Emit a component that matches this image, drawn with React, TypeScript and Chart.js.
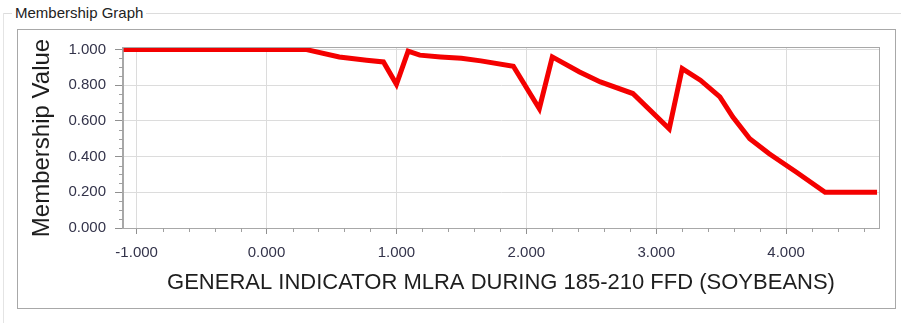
import React, { useEffect, useRef } from "react";
import { Chart, registerables } from "chart.js";

Chart.register(...registerables);

const groupTitle = "Membership Graph";
const xAxisTitle = "GENERAL INDICATOR MLRA DURING 185-210 FFD (SOYBEANS)";
const yAxisTitle = "Membership Value";

const xValues = [-1.1, 0.3, 0.56, 0.77, 0.9, 1.0, 1.09, 1.18, 1.34, 1.5, 1.65, 1.9, 2.1, 2.2, 2.41, 2.57, 2.82, 3.1, 3.2, 3.34, 3.49, 3.59, 3.72, 3.87, 4.08, 4.3, 4.7];
const membershipValues = [1.0, 1.0, 0.958, 0.94, 0.93, 0.805, 0.99, 0.968, 0.958, 0.95, 0.936, 0.906, 0.668, 0.958, 0.874, 0.818, 0.753, 0.556, 0.893, 0.828, 0.734, 0.621, 0.5, 0.416, 0.312, 0.2, 0.2];

const xTickValues = [-1, 0, 1, 2, 3, 4];
const yTickValues = [0, 0.2, 0.4, 0.6, 0.8, 1.0];
const xMin = -1.105;
const xMax = 4.715;
const yMin = 0;
const yMax = 1.008;
const xMinorStep = 0.2;
const yMinorStep = 0.05;

const FONT = "'Liberation Sans', Arial, sans-serif";

export default function App() {
  const ref = useRef<HTMLCanvasElement>(null);

  useEffect(() => {
    if (!ref.current) return;
    Chart.defaults.font.family = FONT;

    const framePlugin = {
      id: "frame",
      beforeDatasetsDraw(chart: any) {
        const { ctx, chartArea } = chart;
        ctx.save();
        ctx.strokeStyle = "#a8a8a8";
        ctx.lineWidth = 1;
        ctx.strokeRect(
          Math.round(chartArea.left) - 0.5,
          Math.round(chartArea.top) - 0.5,
          Math.round(chartArea.right - chartArea.left) + 1,
          Math.round(chartArea.bottom - chartArea.top) + 1
        );
        ctx.restore();
      },
    };

    const minorTicksPlugin = {
      id: "minorTicks",
      afterDraw(chart: any) {
        const { ctx, chartArea } = chart;
        const xs = chart.scales.x;
        const ys = chart.scales.y;
        ctx.save();
        ctx.strokeStyle = "#a0a0a0";
        ctx.lineWidth = 1;
        ctx.beginPath();
        const xStart = Math.ceil(xMin / xMinorStep);
        const xEnd = Math.floor(xMax / xMinorStep);
        for (let i = xStart; i <= xEnd; i++) {
          const v = i * xMinorStep;
          if (Math.abs(v - Math.round(v)) < 1e-6) continue;
          const px = Math.round(xs.getPixelForValue(v)) + 0.5;
          ctx.moveTo(px, chartArea.bottom);
          ctx.lineTo(px, chartArea.bottom + 4);
        }
        const yStart = Math.ceil(yMin / yMinorStep);
        const yEnd = Math.floor(yMax / yMinorStep);
        for (let i = yStart; i <= yEnd; i++) {
          if (i % 4 === 0) continue;
          const v = i * yMinorStep;
          const py = Math.round(ys.getPixelForValue(v)) + 0.5;
          ctx.moveTo(chartArea.left, py);
          ctx.lineTo(chartArea.left - 4, py);
        }
        ctx.stroke();
        ctx.restore();
      },
    };

    const chart = new Chart(ref.current, {
      type: "line",
      data: {
        datasets: [
          {
            data: xValues.map((x, i) => ({ x, y: membershipValues[i] })),
            borderColor: "#f40000",
            borderWidth: 5,
            pointRadius: 0,
            tension: 0,
            fill: false,
          },
        ],
      },
      options: {
        responsive: false,
        animation: false,
        events: [],
        layout: { padding: { top: 48, right: 22, left: 0, bottom: 0 } },
        plugins: {
          legend: { display: false },
          tooltip: { enabled: false },
        },
        scales: {
          x: {
            type: "linear",
            min: xMin,
            max: xMax,
            afterBuildTicks: (s: any) => {
              s.ticks = xTickValues.map((v) => ({ value: v }));
            },
            afterFit: (s: any) => {
              s.height = 95;
            },
            ticks: {
              callback: (v: any) => Number(v).toFixed(3),
              color: "#33334a",
              font: { family: FONT, size: 15 },
              padding: 10,
              maxRotation: 0,
              autoSkip: false,
            },
            grid: { color: "#dcdcdc", tickColor: "#909090", tickLength: 6 },
            border: { color: "#a8a8a8" },
            title: {
              display: true,
              text: xAxisTitle,
              color: "#1e1e1e",
              font: { family: FONT, size: 22 },
              padding: { top: 0, bottom: 27 },
            },
          },
          y: {
            type: "linear",
            min: yMin,
            max: yMax,
            afterBuildTicks: (s: any) => {
              s.ticks = yTickValues.map((v) => ({ value: v }));
            },
            afterFit: (s: any) => {
              s.width = 123;
            },
            ticks: {
              callback: (v: any) => Number(v).toFixed(3),
              color: "#33334a",
              font: { family: FONT, size: 15 },
              padding: 9,
            },
            grid: { color: "#dcdcdc", tickColor: "#909090", tickLength: 8 },
            border: { color: "#a8a8a8" },
            title: {
              display: true,
              text: yAxisTitle,
              color: "#1e1e1e",
              font: { family: FONT, size: 24 },
              padding: { top: 28, bottom: 0 },
            },
          },
        },
      },
      plugins: [framePlugin, minorTicksPlugin],
    } as any);

    return () => chart.destroy();
  }, []);

  return (
    <div
      style={{
        position: "fixed",
        left: 0,
        top: 0,
        width: 901,
        height: 323,
        background: "#ffffff",
        overflow: "hidden",
        fontFamily: FONT,
      }}
    >
      <div style={{ position: "absolute", left: 3, top: 13, width: 898, height: 0, borderTop: "1px solid #dcdcdc" }} />
      <div style={{ position: "absolute", left: 3, top: 13, width: 0, height: 310, borderLeft: "1px solid #e4e4e4" }} />
      <div
        style={{
          position: "absolute",
          left: 12,
          top: 4,
          height: 18,
          lineHeight: "18px",
          fontSize: 15,
          color: "#222222",
          background: "#ffffff",
          padding: "0 3px",
          whiteSpace: "nowrap",
        }}
      >
        {groupTitle}
      </div>
      <div
        style={{
          position: "absolute",
          left: 17,
          top: 29,
          width: 877,
          height: 278,
          border: "1px solid #a8a8a8",
          boxSizing: "content-box",
        }}
      />
      <canvas
        ref={ref}
        width={901}
        height={323}
        style={{ position: "absolute", left: 0, top: 0, width: 901, height: 323, display: "block" }}
      />
    </div>
  );
}
